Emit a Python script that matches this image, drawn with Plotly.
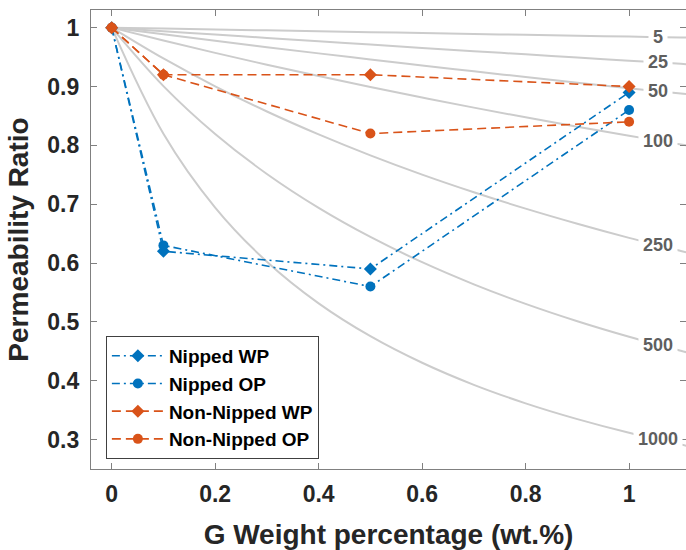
import numpy as np
import plotly.graph_objects as go

# ---------------- data ----------------
wt = [0, 0.1, 0.5, 1.0]
nipped_wp = [1.0, 0.62, 0.59, 0.89]
nipped_op = [1.0, 0.63, 0.56, 0.86]
non_nipped_wp = [1.0, 0.92, 0.92, 0.90]
non_nipped_op = [1.0, 0.92, 0.82, 0.84]

# reference (aspect-ratio) curves
ref_x = [0, 0.1, 0.2, 0.3, 0.4, 0.5, 0.6, 0.7, 0.8, 0.9, 1.0, 1.1, 1.12]
ref_labels = ["5", "25", "50", "100", "250", "500", "1000"]
ref_5 = [1, 0.9985, 0.9969, 0.9954, 0.9939, 0.9924, 0.9908, 0.9893, 0.9878, 0.9863, 0.9848, 0.9833, 0.9830]
ref_25 = [1, 0.9941, 0.9883, 0.9825, 0.9768, 0.9712, 0.9656, 0.9600, 0.9546, 0.9492, 0.9438, 0.9385, 0.9375]
ref_50 = [1, 0.9887, 0.9777, 0.9668, 0.9563, 0.9459, 0.9357, 0.9258, 0.9161, 0.9065, 0.8971, 0.8880, 0.8862]
ref_100 = [1, 0.9781, 0.9571, 0.9370, 0.9177, 0.8991, 0.8813, 0.8641, 0.8476, 0.8317, 0.8164, 0.8016, 0.7987]
ref_250 = [1, 0.9476, 0.9003, 0.8575, 0.8186, 0.7830, 0.7503, 0.7203, 0.6925, 0.6668, 0.6428, 0.6206, 0.6163]
ref_500 = [1, 0.9007, 0.8193, 0.7513, 0.6937, 0.6443, 0.6014, 0.5638, 0.5306, 0.5011, 0.4747, 0.4509, 0.4464]
ref_1000 = [1, 0.8197, 0.6943, 0.6022, 0.5315, 0.4757, 0.4305, 0.3930, 0.3616, 0.3348, 0.3116, 0.2915, 0.2877]
ref_curves = [ref_5, ref_25, ref_50, ref_100, ref_250, ref_500, ref_1000]
label_x = 1.056

x_ticks = [0, 0.2, 0.4, 0.6, 0.8, 1]
y_ticks = [0.3, 0.4, 0.5, 0.6, 0.7, 0.8, 0.9, 1]

# ---------------- style ----------------
FONT = "Liberation Sans, Arial, Helvetica, sans-serif"
BLUE = "#0072BD"
ORANGE = "#D95319"
TXT = "#262626"
AX = "#808080"
GREY_LINE = "#cccccc"

fig = go.Figure()

for lab, ys in zip(ref_labels, ref_curves):
    fig.add_trace(go.Scatter(x=ref_x, y=ys, mode="lines", showlegend=False,
                             line=dict(color=GREY_LINE, width=2, shape="spline"),
                             hoverinfo="skip"))

series = [
    ("Nipped WP", nipped_wp, BLUE, "diamond", 10, "8px,4px,2px,4px"),
    ("Nipped OP", nipped_op, BLUE, "circle", 10, "8px,4px,2px,4px"),
    ("Non-Nipped WP", non_nipped_wp, ORANGE, "diamond", 10, "9px,5px"),
    ("Non-Nipped OP", non_nipped_op, ORANGE, "circle", 10, "9px,5px"),
]
for name, ys, col, sym, sz, dash in series:
    fig.add_trace(go.Scatter(x=wt, y=ys, mode="lines+markers", name=name,
                             line=dict(color=col, width=1.6, dash=dash),
                             marker=dict(symbol=sym, size=sz, color=col,
                                         line=dict(width=0))))

# dummy trace for right-hand mirrored ticks
fig.add_trace(go.Scatter(x=[None], y=[None], yaxis="y2", showlegend=False))

for lab, ys in zip(ref_labels, ref_curves):
    fig.add_annotation(x=label_x, y=float(np.interp(label_x, ref_x, ys)),
                       text=lab, showarrow=False, bgcolor="white", borderpad=4,
                       font=dict(family=FONT, size=18, color="#5f5f5f", weight="bold"))

fig.update_layout(
    width=686, height=550,
    margin=dict(l=91, r=0, t=10, b=81),
    paper_bgcolor="white", plot_bgcolor="white",
    font=dict(family=FONT, color=TXT),
    xaxis=dict(range=[-0.04, 1.11], tickvals=x_ticks, ticks="inside", ticklen=6,
               tickcolor=AX, showline=True, linecolor=AX, linewidth=1.2,
               mirror="ticks", showgrid=False, zeroline=False, ticklabelstandoff=4,
               tickfont=dict(family=FONT, size=23, color=TXT, weight="bold"),
               title=dict(text="G Weight percentage (wt.%)", standoff=18,
                          font=dict(family=FONT, size=28, color=TXT, weight="bold"))),
    yaxis=dict(range=[0.25, 1.03], tickvals=y_ticks, ticks="inside", ticklen=6,
               tickcolor=AX, showline=True, linecolor=AX, linewidth=1.2,
               showgrid=False, zeroline=False, ticklabelstandoff=6,
               tickfont=dict(family=FONT, size=23, color=TXT, weight="bold"),
               title=dict(text="Permeability Ratio", standoff=10,
                          font=dict(family=FONT, size=28, color=TXT, weight="bold"))),
    yaxis2=dict(range=[0.25, 1.03], tickvals=y_ticks, ticks="inside", ticklen=6,
                tickcolor=AX, overlaying="y", side="right", showticklabels=False,
                showline=False, showgrid=False, zeroline=False),
    legend=dict(x=0.025, y=0.022, xanchor="left", yanchor="bottom",
                bgcolor="white", bordercolor="#404040", borderwidth=1,
                font=dict(family=FONT, size=19, color="black", weight="bold"),
                itemwidth=52, tracegroupgap=0),
    showlegend=True,
)

fig.write_html("out.html")
